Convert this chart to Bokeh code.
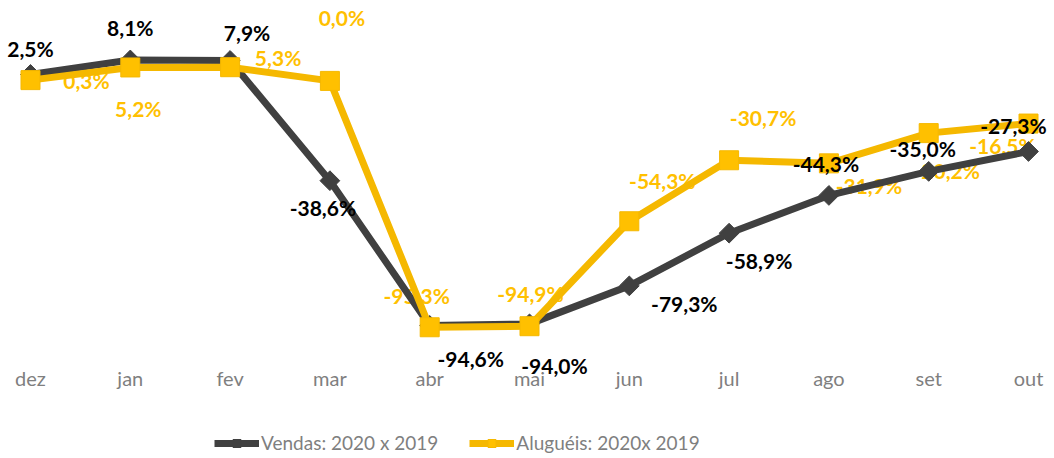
import math
from bokeh.plotting import figure
from bokeh.models import ColumnDataSource, Range1d, FixedTicker, Legend, LegendItem, LabelSet
from bokeh.core.properties import value
from bokeh.embed import file_html
from bokeh.resources import INLINE

# ---- data ----
months = ["dez", "jan", "fev", "mar", "abr", "mai", "jun", "jul", "ago", "set", "out"]
vendas = [2.5, 8.1, 7.9, -38.6, -94.6, -94.0, -79.3, -58.9, -44.3, -35.0, -27.3]
alugueis = [0.3, 5.2, 5.3, 0.0, -95.3, -94.9, -54.3, -30.7, -31.9, -20.2, -16.5]
series_names = ["Vendas: 2020 x 2019", "Aluguéis: 2020x 2019"]

# label offsets (screen px, y downward), style only
vendas_dx = [0, 0, 17, -7, 41, 25, 55, 30, -3, -6, -15]
vendas_dy = [-26, -32, -28, 27, 33, 42, 18, 27, -32, -23, -26]
alug_dx = [56, 8, 48, 12, -13, 1, 33, 34, 40, 18, -26]
alug_dy = [0, 41, -10, -63, -32, -33, -41, -43, 22, 37, 22]

def fmt(v):
    return f"{v:.1f}%".replace(".", ",")

xs = list(range(len(months)))
src_v = ColumnDataSource(dict(x=xs, y=vendas, lab=[fmt(v) for v in vendas],
                              dx=vendas_dx, dy=[-d for d in vendas_dy]))
src_a = ColumnDataSource(dict(x=xs, y=alugueis, lab=[fmt(v) for v in alugueis],
                              dx=alug_dx, dy=alug_dy))

DARK = "#404040"
GOLD = "#FFC000"
GOLD_LINE = "#F5B800"
FONT = "Lato"

FRAME_H = 455          # frame spans chart + legend area
AXIS_Y = 378           # where the month labels start
PX_PER_UNIT = 2.585
ZERO_Y = 80.4
p = figure(frame_width=1054, frame_height=FRAME_H,
           x_range=Range1d(-0.3006, 10.2605),
           y_range=Range1d(-(FRAME_H - ZERO_Y) / PX_PER_UNIT, ZERO_Y / PX_PER_UNIT),
           output_backend="svg", toolbar_location=None,
           min_border_left=0, min_border_right=0, min_border_top=0, min_border_bottom=3,
           y_axis_location=None)
p.outline_line_color = None
p.xgrid.visible = False
p.ygrid.visible = False
p.background_fill_color = None
p.border_fill_color = "white"

# gold labels (underneath lines)
p.text(x="x", y="y", text="lab", x_offset="dx", y_offset="dy", source=src_a,
       text_font=value(FONT), text_font_style="bold", text_font_size="21px",
       text_color=GOLD, text_align="center", text_baseline="middle")

lv = p.line(x="x", y="y", source=src_v, line_color=DARK, line_width=7, line_join="round")
mv = p.scatter(x="x", y="y", source=src_v, marker="square", angle=math.pi / 4, size=14,
               fill_color=DARK, line_color=DARK)
la = p.line(x="x", y="y", source=src_a, line_color=GOLD_LINE, line_width=7, line_join="round")
ma = p.scatter(x="x", y="y", source=src_a, marker="square", size=19,
               fill_color=GOLD, line_color=GOLD_LINE, line_width=1)

labels_v = LabelSet(x="x", y="y", text="lab", x_offset="dx", y_offset="dy", source=src_v,
                    text_font=value(FONT), text_font_style="bold", text_font_size="21px",
                    text_color="#000000", text_align="center", text_baseline="middle",
                    level="overlay")
p.add_layout(labels_v)

ax = p.xaxis[0]
ax.ticker = FixedTicker(ticks=xs)
ax.major_label_overrides = {i: m for i, m in zip(xs, months)}
ax.axis_line_color = None
ax.major_tick_line_color = None
ax.minor_tick_line_color = None
ax.major_tick_out = 0
ax.major_tick_in = 0
ax.minor_tick_out = 0
ax.major_label_standoff = -(FRAME_H - AXIS_Y) - 13
ax.major_label_text_font = FONT
ax.major_label_text_font_size = "20px"
ax.major_label_text_color = "#7F7F7F"

legend = Legend(items=[LegendItem(label=series_names[0], renderers=[lv, mv]),
                       LegendItem(label=series_names[1], renderers=[la, ma])],
                orientation="horizontal", location=(214, 1), level="overlay",
                glyph_width=45, glyph_height=20, label_standoff=2, spacing=31,
                padding=0, margin=0, border_line_color=None, background_fill_color=None,
                label_text_font=FONT, label_text_font_size="19px", label_text_color="#7F7F7F")
p.add_layout(legend, "center")

open("out.html", "w").write(file_html(p, INLINE))
